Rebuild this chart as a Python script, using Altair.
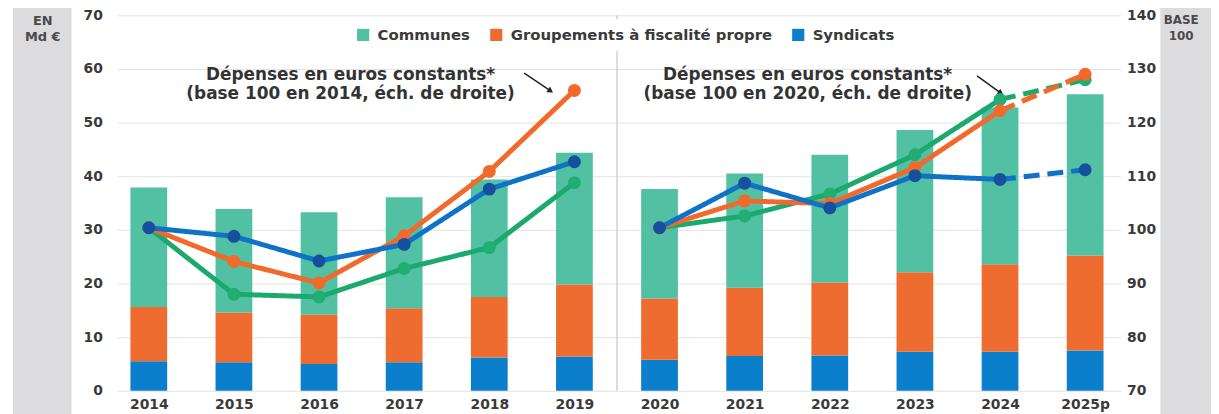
import json
import altair as alt
import pandas as pd

years = ["2014", "2015", "2016", "2017", "2018", "2019",
         "2020", "2021", "2022", "2023", "2024", "2025p"]
series = ["Communes", "Groupements à fiscalité propre", "Syndicats"]

# Dépenses en Md € (barres empilées)
syndicats_md = [5.5, 5.3, 5.0, 5.3, 6.2, 6.4, 5.8, 6.5, 6.6, 7.3, 7.3, 7.5]
groupements_md = [10.1, 9.3, 9.2, 10.1, 11.3, 13.4, 11.4, 12.7, 13.6, 14.8, 16.3, 17.7]
communes_md = [22.3, 19.3, 19.1, 20.7, 21.9, 24.6, 20.4, 21.3, 23.8, 26.5, 29.2, 30.1]

# Dépenses en euros constants, base 100 (échelle de droite)
communes_idx = [100.4, 88.0, 87.5, 92.8, 96.7, 108.8, 100.4, 102.6, 106.7, 114.0, 124.3, 128.0]
groupements_idx = [100.4, 94.1, 90.1, 98.9, 110.9, 126.0, 100.4, 105.4, 104.9, 111.6, 122.2, 129.0]
syndicats_idx = [100.4, 98.8, 94.2, 97.3, 107.6, 112.7, 100.4, 108.7, 104.1, 110.1, 109.4, 111.2]

bar_colors = ["#52c0a3", "#ef6c30", "#0b7fcb"]
line_colors = ["#1ca96e", "#f26a2b", "#0e72c6"]
point_colors = ["#22ad72", "#f26a2b", "#164f9e"]

annotations = ["Dépenses en euros constants*\n(base 100 en 2014, éch. de droite)",
               "Dépenses en euros constants*\n(base 100 en 2020, éch. de droite)"]
ann_x = [2.37, 7.74]
ann_y = [60.4, 60.4]
arrow_x = [4.41, 9.73]
arrow_x2 = [4.72, 10.01]
arrow_y = [59.2, 58.7]
arrow_y2 = [55.9, 55.5]

FONT = "DejaVu Sans"
TXT = "#3a3a3a"

# ---------- data tables ----------
bar_rows = []
for i in range(len(years)):
    for name, arr, o in [("Syndicats", syndicats_md, 0),
                         ("Groupements à fiscalité propre", groupements_md, 1),
                         ("Communes", communes_md, 2)]:
        bar_rows.append({"x": i, "serie": name, "v": arr[i], "o": o})
bars_df = pd.DataFrame(bar_rows)

idx_map = {"Communes": communes_idx,
           "Groupements à fiscalité propre": groupements_idx,
           "Syndicats": syndicats_idx}
line_rows, point_rows = [], []
for name, arr in idx_map.items():
    for i in range(0, 6):
        line_rows.append({"x": i, "serie": name, "v": arr[i], "seg": "a", "style": "solid"})
    for i in range(6, 11):
        line_rows.append({"x": i, "serie": name, "v": arr[i], "seg": "b", "style": "solid"})
    for i in range(10, 12):
        line_rows.append({"x": i, "serie": name, "v": arr[i], "seg": "c", "style": "dashed"})
    for i in range(12):
        point_rows.append({"x": i, "serie": name, "v": arr[i]})
lines_df = pd.DataFrame(line_rows)
points_df = pd.DataFrame(point_rows)

ann_df = pd.DataFrame({"x": ann_x, "y": ann_y, "t": annotations})
arr_df = pd.DataFrame({"x": arrow_x, "x2": arrow_x2, "y": arrow_y, "y2": arrow_y2})
div_df = pd.DataFrame({"x": [5.5], "y": [0], "y2": [70]})
one = pd.DataFrame({"a": [0]})

label_expr = json.dumps(years) + "[datum.value]"
xscale = alt.Scale(domain=[-0.312, 11.358], nice=False, zero=False)
xaxis = alt.Axis(values=list(range(12)), labelExpr=label_expr, grid=False, ticks=False,
                 domain=False, labelFont=FONT, labelFontSize=14, labelFontWeight="bold",
                 labelColor=TXT, labelPadding=7, labelFlush=False, labelOverlap=False,
                 title=None)
yl_scale = alt.Scale(domain=[0, 70], nice=False, zero=False)
yl_axis = alt.Axis(values=list(range(0, 71, 10)), grid=True, gridColor="#e2e2e2",
                   ticks=False, domain=False, labelFont=FONT, labelFontSize=14,
                   labelFontWeight="bold", labelColor=TXT, labelPadding=15, title=None)
yr_scale = alt.Scale(domain=[70, 140], nice=False, zero=False)
yr_axis = alt.Axis(orient="right", values=list(range(70, 141, 10)), grid=False,
                   ticks=False, domain=False, labelFont=FONT, labelFontSize=14,
                   labelFontWeight="bold", labelColor=TXT, labelPadding=6, title=None)

# ---------- decorations (side panels) ----------
panel_l = alt.Chart(one).mark_rect(color="#dcdcdf").encode(
    x=alt.value(-105), x2=alt.value(-46), y=alt.value(-9), y2=alt.value(410))
panel_r = alt.Chart(one).mark_rect(color="#dcdcdf").encode(
    x=alt.value(1050), x2=alt.value(1110), y=alt.value(-9), y2=alt.value(410))
txt_l = alt.Chart(one).mark_text(text="EN\nMd €", lineBreak="\n", font=FONT, fontSize=13,
                                 fontWeight=600, color="#4a4a4a", baseline="top",
                                 lineHeight=16).encode(x=alt.value(-75), y=alt.value(0))
txt_r = alt.Chart(one).mark_text(text="BASE\n100", lineBreak="\n", font=FONT, fontSize=12,
                                 fontWeight=600, color="#4a4a4a", baseline="top",
                                 lineHeight=16).encode(x=alt.value(1071), y=alt.value(0))

# ---------- left scale layer ----------
bars = alt.Chart(bars_df).mark_bar(width=37).encode(
    x=alt.X("x:Q", scale=xscale, axis=xaxis),
    y=alt.Y("v:Q", stack="zero", scale=yl_scale, axis=yl_axis),
    color=alt.Color("serie:N", scale=alt.Scale(domain=series, range=bar_colors),
                    legend=alt.Legend(title=None, orient="none", legendX=232, legendY=4,
                                      direction="horizontal", columns=3,
                                      symbolType="square", symbolSize=150,
                                      symbolStrokeWidth=0, labelFont=FONT,
                                      labelFontSize=15, labelFontWeight=600,
                                      labelColor=TXT, labelLimit=400, labelOffset=7,
                                      columnPadding=18, fillColor="white", padding=8,
                                      zindex=1)),
    order=alt.Order("o:Q"),
)
divider = alt.Chart(div_df).mark_rule(color="#d2d2d2", strokeWidth=1.5).encode(
    x=alt.X("x:Q", scale=xscale, axis=xaxis), y="y:Q", y2="y2:Q")
ann = alt.Chart(ann_df).mark_text(lineBreak="\n", font=FONT, fontSize=17, fontWeight="bold",
                                  color="#333", baseline="top", align="center",
                                  lineHeight=19).encode(
    x=alt.X("x:Q", scale=xscale, axis=xaxis), y="y:Q", text="t:N")
arrows = alt.Chart(arr_df).mark_rule(color="#222", strokeWidth=1.5).encode(
    x=alt.X("x:Q", scale=xscale, axis=xaxis), x2="x2:Q", y="y:Q", y2="y2:Q")
heads = alt.Chart(arr_df).mark_point(shape="triangle-right", filled=True, color="#222",
                                     size=45, angle=33, opacity=1).encode(
    x=alt.X("x2:Q", scale=xscale, axis=xaxis), y="y2:Q")

left = alt.layer(panel_l, panel_r, txt_l, txt_r, bars, divider, ann, arrows, heads)

# ---------- right scale layer ----------
line_color = alt.Color("serie:N", scale=alt.Scale(domain=series, range=line_colors), legend=None)
point_fill = alt.Fill("serie:N", scale=alt.Scale(domain=series, range=point_colors), legend=None)
dash = alt.StrokeDash("style:N", scale=alt.Scale(domain=["solid", "dashed"],
                                                 range=[[1, 0], [16, 8]]), legend=None)
right_layers = []
for name in series:
    ldf = lines_df[lines_df.serie == name]
    pdf = points_df[points_df.serie == name]
    right_layers.append(alt.Chart(ldf).mark_line(strokeWidth=5, strokeCap="butt").encode(
        x=alt.X("x:Q", scale=xscale, axis=xaxis),
        y=alt.Y("v:Q", scale=yr_scale, axis=yr_axis),
        color=line_color, strokeDash=dash, detail="seg:N"))
    right_layers.append(alt.Chart(pdf).mark_circle(size=170, opacity=1).encode(
        x=alt.X("x:Q", scale=xscale, axis=xaxis),
        y=alt.Y("v:Q", scale=yr_scale, axis=yr_axis),
        fill=point_fill))
right = alt.layer(*right_layers)

chart = alt.layer(left, right).resolve_scale(
    y="independent", color="independent"
).properties(
    width=1010, height=378,
    autosize=alt.AutoSizeParams(type="none"),
    padding={"left": 110, "top": 6, "right": 91, "bottom": 22},
    background="white",
).configure_view(stroke=None)

chart.save("out.html", embed_options={"renderer": "svg", "actions": False})
